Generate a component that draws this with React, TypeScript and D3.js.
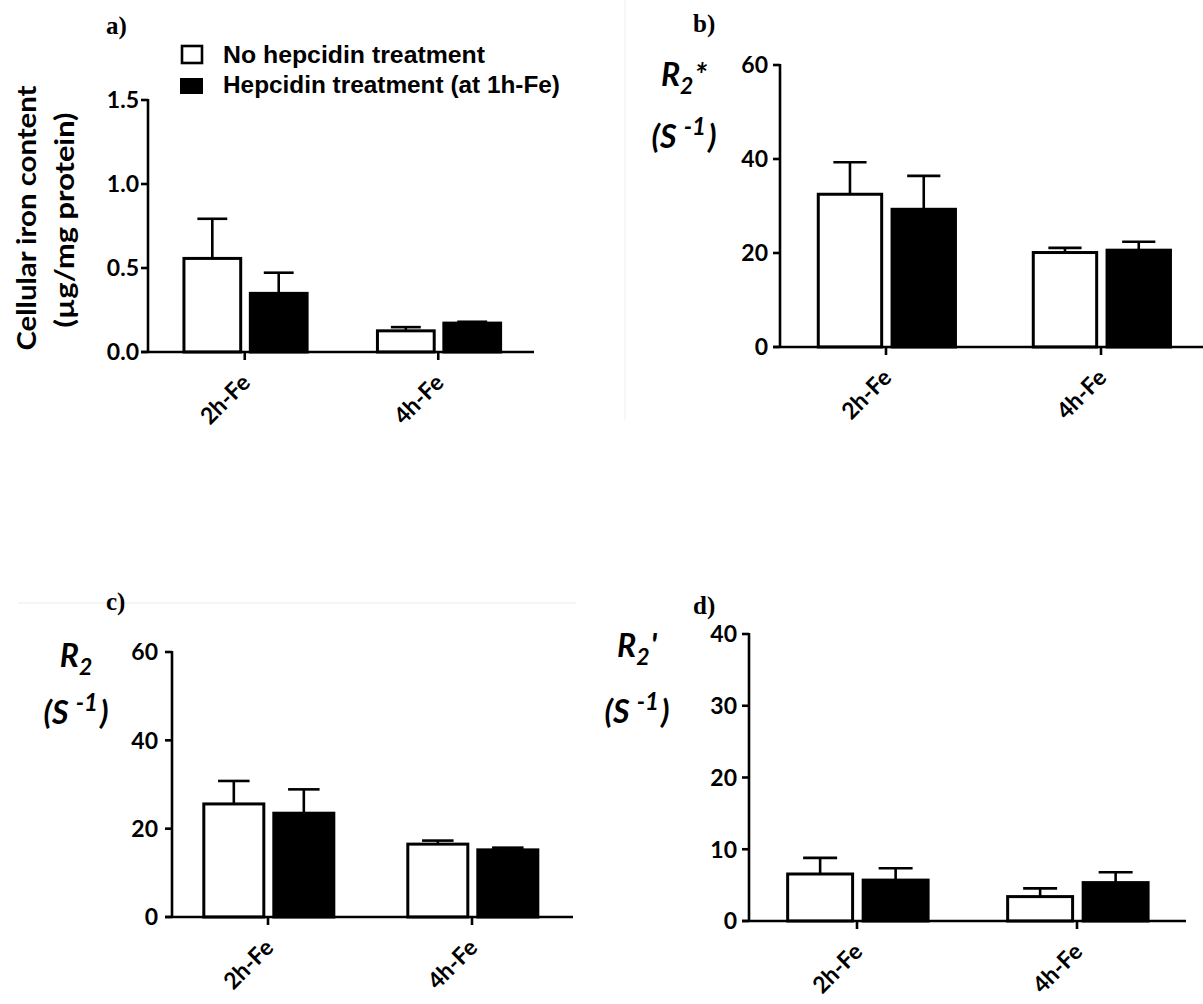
import React from "react";
import * as d3 from "d3";

// ---------- data ----------
const categories = ["2h-Fe", "4h-Fe"];
const seriesNames = ["No hepcidin treatment", "Hepcidin treatment (at 1h-Fe)"];

// a) cellular iron content (µg/mg protein)
const ironNoHep = [0.557, 0.126];
const ironNoHepErr = [0.236, 0.022];
const ironHep = [0.349, 0.172];
const ironHepErr = [0.123, 0.008];
const ironTicks = [0, 0.5, 1.0, 1.5];

// b) R2*
const r2StarNoHep = [32.5, 20.1];
const r2StarNoHepErr = [6.8, 1.0];
const r2StarHep = [29.3, 20.6];
const r2StarHepErr = [7.1, 1.8];
const r2StarTicks = [0, 20, 40, 60];

// c) R2
const r2NoHep = [25.6, 16.5];
const r2NoHepErr = [5.2, 0.8];
const r2Hep = [23.5, 15.2];
const r2HepErr = [5.4, 0.5];
const r2Ticks = [0, 20, 40, 60];

// d) R2'
const r2PrimeNoHep = [6.55, 3.4];
const r2PrimeNoHepErr = [2.25, 1.15];
const r2PrimeHep = [5.7, 5.35];
const r2PrimeHepErr = [1.65, 1.45];
const r2PrimeTicks = [0, 10, 20, 30, 40];

// ---------- styling ----------
const FONT = "Lato, 'Open Sans', sans-serif";
const SERIF = "'Liberation Serif', 'DejaVu Serif', serif";
const LEGEND_FONT = "'Liberation Sans', Arial, sans-serif";

type PanelCfg = {
  tag: string;
  tagX: number;
  tagY: number;
  x0: number;
  xEnd: number;
  bandStart: number;
  bandEnd: number;
  yTop: number;
  yBottom: number;
  labelGap: number;
  ticks: number[];
  fmt: (v: number) => string;
  noHep: number[];
  noHepErr: number[];
  hep: number[];
  hepErr: number[];
  label: React.ReactNode;
};

function Panel({ cfg }: { cfg: PanelCfg }) {
  const yMax = cfg.ticks[cfg.ticks.length - 1];
  const y = d3.scaleLinear().domain([0, yMax]).range([cfg.yBottom, cfg.yTop]);
  const x = d3.scaleBand<string>().domain(categories).range([cfg.bandStart, cfg.bandEnd]);
  const step = x.step();
  const sub = d3
    .scaleBand<number>()
    .domain([0, 1])
    .range([-0.322 * step, 0.33 * step])
    .paddingInner(0.1);
  const bw = sub.bandwidth();
  const series = [
    { vals: cfg.noHep, errs: cfg.noHepErr, fill: "#fff" },
    { vals: cfg.hep, errs: cfg.hepErr, fill: "#000" },
  ];
  const sw = 3;
  return (
    <g>
      <text x={cfg.tagX} y={cfg.tagY} fontFamily={SERIF} fontWeight={700} fontSize={25}>
        {cfg.tag}
      </text>
      {cfg.label}
      {/* error bars */}
      {series.map((s, si) =>
        categories.map((c, ci) => {
          const cx = (x(c) as number) + step / 2 + (sub(si) as number) + bw / 2;
          const top = y(s.vals[ci] + s.errs[ci]);
          return (
            <g key={`e${si}${ci}`} stroke="#000" strokeWidth={2.6}>
              <line x1={cx} x2={cx} y1={y(s.vals[ci])} y2={top} />
              <line x1={cx - bw * 0.25} x2={cx + bw * 0.25} y1={top} y2={top} />
            </g>
          );
        })
      )}
      {/* bars */}
      {series.map((s, si) =>
        categories.map((c, ci) => {
          const bx = (x(c) as number) + step / 2 + (sub(si) as number);
          const by = y(s.vals[ci]);
          return (
            <rect
              key={`b${si}${ci}`}
              x={bx + sw / 2}
              y={by}
              width={bw - sw}
              height={cfg.yBottom - by}
              fill={s.fill}
              stroke="#000"
              strokeWidth={sw}
            />
          );
        })
      )}
      {/* y axis */}
      <line x1={cfg.x0} x2={cfg.x0} y1={cfg.yTop - 1} y2={cfg.yBottom} stroke="#000" strokeWidth={2.6} />
      {cfg.ticks.map((t) => (
        <g key={`t${t}`}>
          <line x1={cfg.x0 - 7} x2={cfg.x0} y1={y(t)} y2={y(t)} stroke="#000" strokeWidth={2.6} />
          <text
            x={cfg.x0 - cfg.labelGap}
            y={y(t)}
            dy="0.36em"
            textAnchor="end"
            fontFamily={FONT}
            fontWeight={700}
            fontSize={23}
          >
            {cfg.fmt(t)}
          </text>
        </g>
      ))}
      {/* x axis */}
      <line x1={cfg.x0 - 7} x2={cfg.xEnd} y1={cfg.yBottom} y2={cfg.yBottom} stroke="#000" strokeWidth={2.6} />
      {categories.map((c) => {
        const cx = (x(c) as number) + step / 2;
        return (
          <g key={`x${c}`}>
            <line x1={cx} x2={cx} y1={cfg.yBottom} y2={cfg.yBottom + 8} stroke="#000" strokeWidth={2.6} />
            <text
              transform={`translate(${cx + 7},${cfg.yBottom + 32}) rotate(-45)`}
              textAnchor="end"
              fontFamily={FONT}
              fontWeight={700}
              fontSize={23}
            >
              {c}
            </text>
          </g>
        );
      })}
    </g>
  );
}

function RLabel({ x, y1, y2, suffix }: { x: number; y1: number; y2: number; suffix: string }) {
  return (
    <g fontFamily={FONT} fontWeight={700} fontStyle="italic" fontSize={32} textAnchor="middle">
      <text x={x} y={y1}>
        R<tspan fontSize={23} dy="8">2</tspan>
        <tspan dy="-8" dx="1">{suffix}</tspan>
      </text>
      <text x={x} y={y2}>
        (S<tspan fontSize={24} dy="-13" dx="7">-1</tspan>
        <tspan dy="13" dx="2">)</tspan>
      </text>
    </g>
  );
}

export default function App() {
  const f1 = d3.format(".1f");
  const f0 = d3.format("d");
  const panels: PanelCfg[] = [
    {
      tag: "a)",
      tagX: 106,
      tagY: 34,
      x0: 148,
      xEnd: 534,
      bandStart: 148,
      bandEnd: 535,
      yTop: 100,
      yBottom: 352,
      labelGap: 9,
      ticks: ironTicks,
      fmt: f1,
      noHep: ironNoHep,
      noHepErr: ironNoHepErr,
      hep: ironHep,
      hepErr: ironHepErr,
      label: (
        <g fontFamily={FONT} fontWeight={700} fontSize={27} textAnchor="middle">
          <text transform="translate(36,218) rotate(-90)" textLength={265} lengthAdjust="spacingAndGlyphs">
            Cellular iron content
          </text>
          <text transform="translate(74,220) rotate(-90)" textLength={215} lengthAdjust="spacingAndGlyphs">
            (µg/mg protein)
          </text>
        </g>
      ),
    },
    {
      tag: "b)",
      tagX: 693,
      tagY: 32,
      x0: 780,
      xEnd: 1210,
      bandStart: 778.5,
      bandEnd: 1208.5,
      yTop: 65,
      yBottom: 347,
      labelGap: 12,
      ticks: r2StarTicks,
      fmt: f0,
      noHep: r2StarNoHep,
      noHepErr: r2StarNoHepErr,
      hep: r2StarHep,
      hepErr: r2StarHepErr,
      label: <RLabel x={684} y1={86} y2={148} suffix="*" />,
    },
    {
      tag: "c)",
      tagX: 106,
      tagY: 610,
      x0: 172,
      xEnd: 573,
      bandStart: 166,
      bandEnd: 574,
      yTop: 652,
      yBottom: 917,
      labelGap: 14,
      ticks: r2Ticks,
      fmt: f0,
      noHep: r2NoHep,
      noHepErr: r2NoHepErr,
      hep: r2Hep,
      hepErr: r2HepErr,
      label: <RLabel x={76} y1={667} y2={724} suffix="" />,
    },
    {
      tag: "d)",
      tagX: 693,
      tagY: 614,
      x0: 749,
      xEnd: 1186,
      bandStart: 747,
      bandEnd: 1187,
      yTop: 634,
      yBottom: 921,
      labelGap: 12,
      ticks: r2PrimeTicks,
      fmt: f0,
      noHep: r2PrimeNoHep,
      noHepErr: r2PrimeNoHepErr,
      hep: r2PrimeHep,
      hepErr: r2PrimeHepErr,
      label: <RLabel x={637} y1={657} y2={723} suffix="'" />,
    },
  ];

  return (
    <svg width={1203} height={1004} style={{ position: "absolute", left: 0, top: 0, background: "#fff" }}>
      <rect width={1203} height={1004} fill="#fff" />
      <line x1={18} x2={576} y1={603} y2={603} stroke="#f2f2f2" strokeWidth={1.5} />
      <line x1={625} x2={625} y1={0} y2={420} stroke="#f5f5f5" strokeWidth={1.5} />
      {panels.map((p) => (
        <Panel key={p.tag} cfg={p} />
      ))}
      {/* legend */}
      <g fontFamily={LEGEND_FONT} fontWeight={700} fontSize={23}>
        <rect x={182} y={46} width={20} height={17} fill="#fff" stroke="#000" strokeWidth={2.6} />
        <text x={223} y={63} textLength={262} lengthAdjust="spacingAndGlyphs">
          {seriesNames[0]}
        </text>
        <rect x={180} y={78} width={23} height={16} fill="#000" />
        <text x={223} y={93} textLength={337} lengthAdjust="spacingAndGlyphs">
          {seriesNames[1]}
        </text>
      </g>
    </svg>
  );
}
